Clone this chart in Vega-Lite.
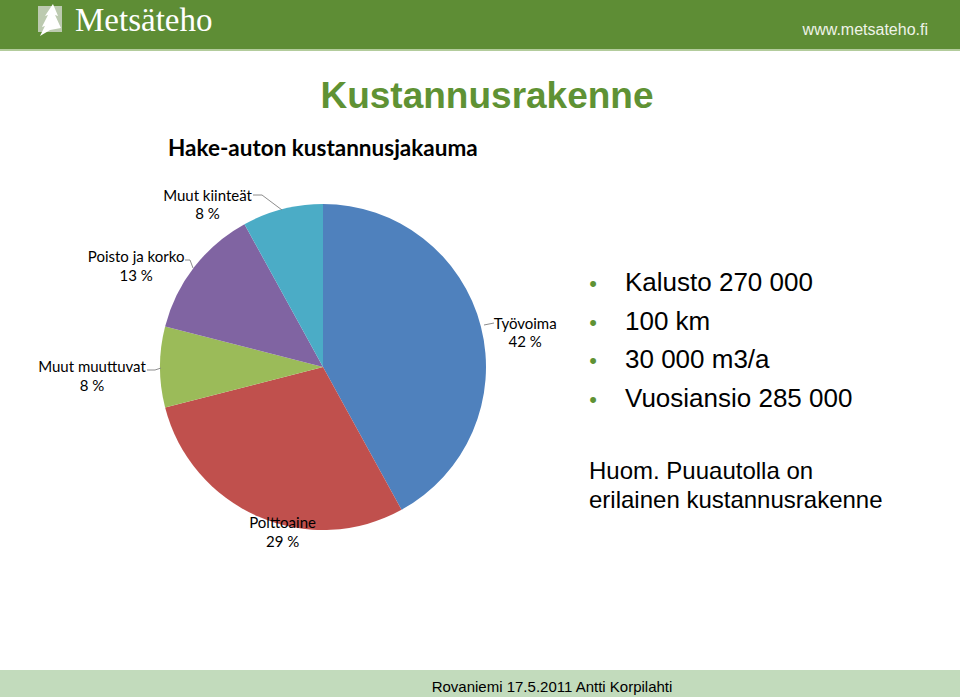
{
  "$schema": "https://vega.github.io/schema/vega-lite/v6.json",
  "width": 960,
  "height": 697,
  "autosize": "none",
  "padding": 0,
  "background": "white",
  "view": {"stroke": null},
  "datasets": {
    "pie": [
      {"kohde": "Työvoima", "osuus": 42, "nro": 1},
      {"kohde": "Polttoaine", "osuus": 29, "nro": 2},
      {"kohde": "Muut muuttuvat", "osuus": 8, "nro": 3},
      {"kohde": "Poisto ja korko", "osuus": 13, "nro": 4},
      {"kohde": "Muut kiinteät", "osuus": 8, "nro": 5}
    ],
    "one": [{}]
  },
  "layer": [
    {"data": {"name": "one"}, "mark": {"type": "rect", "x": 0, "x2": 960, "y": 0, "y2": 49, "fill": "#5E8D35"}, "encoding": {}},
    {"data": {"name": "one"}, "mark": {"type": "rect", "x": 0, "x2": 960, "y": 49, "y2": 51, "fill": "#B3CC9C"}, "encoding": {}},
    {"data": {"name": "one"}, "mark": {"type": "rect", "x": 0, "x2": 960, "y": 670, "y2": 697, "fill": "#C2DBBC"}, "encoding": {}},
    {"data": {"name": "one"}, "mark": {"type": "rect", "x": 38, "x2": 62, "y": 6, "y2": 32, "fill": "#BCCAB0"}, "encoding": {}},
    {"data": {"name": "one"}, "mark": {"type": "point", "x": 48, "y": 20, "size": 1024, "filled": true, "fill": "white", "opacity": 1, "shape": "M0.31,-1L0.63,-0.25L0.44,-0.31L0.81,0.5L0.13,0.63L-0.5,1L-0.19,0.38L-0.38,0.44L0,-0.31L-0.19,-0.25Z"}, "encoding": {}},
    {"data": {"name": "one"}, "mark": {"type": "text", "x": 75, "y": 31, "text": "Metsäteho", "font": "Liberation Serif", "fontSize": 33, "color": "white", "align": "left", "baseline": "alphabetic"}, "encoding": {}},
    {"data": {"name": "one"}, "mark": {"type": "text", "x": 928, "y": 35, "text": "www.metsateho.fi", "font": "Liberation Sans", "fontSize": 16, "color": "#EEF3E8", "align": "right", "baseline": "alphabetic"}, "encoding": {}},
    {"data": {"name": "one"}, "mark": {"type": "text", "x": 487, "y": 108, "text": "Kustannusrakenne", "font": "Liberation Sans", "fontSize": 37, "fontWeight": "bold", "color": "#5F9234", "align": "center", "baseline": "alphabetic"}, "encoding": {}},
    {"data": {"name": "one"}, "mark": {"type": "text", "x": 168, "y": 156, "text": "Hake-auton kustannusjakauma", "font": "Lato", "fontSize": 22.5, "fontWeight": "bold", "color": "black", "align": "left", "baseline": "alphabetic"}, "encoding": {}},
    {"data": {"name": "one"}, "mark": {"type": "text", "x": 593, "y": 291, "text": ["•", "•", "•", "•"], "lineHeight": 38.5, "font": "Liberation Sans", "fontSize": 22, "color": "#5F9234", "align": "center", "baseline": "alphabetic"}, "encoding": {}},
    {"data": {"name": "one"}, "mark": {"type": "text", "x": 625, "y": 291, "text": ["Kalusto 270 000", "100 km", "30 000 m3/a", "Vuosiansio 285 000"], "lineHeight": 38.5, "font": "Liberation Sans", "fontSize": 26, "color": "black", "align": "left", "baseline": "alphabetic"}, "encoding": {}},
    {"data": {"name": "one"}, "mark": {"type": "text", "x": 589, "y": 479, "text": ["Huom. Puuautolla on", "erilainen kustannusrakenne"], "lineHeight": 29, "font": "Liberation Sans", "fontSize": 24, "color": "black", "align": "left", "baseline": "alphabetic"}, "encoding": {}},
    {"data": {"name": "one"}, "mark": {"type": "text", "x": 552, "y": 692, "text": "Rovaniemi 17.5.2011 Antti Korpilahti", "font": "Liberation Sans", "fontSize": 15, "color": "black", "align": "center", "baseline": "alphabetic"}, "encoding": {}},
    {
      "data": {"name": "pie"},
      "mark": {"type": "arc", "x": 323, "y": 367, "outerRadius": 163},
      "encoding": {
        "theta": {"field": "osuus", "type": "quantitative", "stack": true},
        "order": {"field": "nro", "type": "quantitative"},
        "color": {"field": "kohde", "type": "nominal", "legend": null,
          "scale": {"domain": ["Työvoima", "Polttoaine", "Muut muuttuvat", "Poisto ja korko", "Muut kiinteät"],
                    "range": ["#4F81BD", "#C0504D", "#9BBB59", "#8064A2", "#4BACC6"]}}
      }
    },
    {"data": {"name": "one"}, "mark": {"type": "rule", "color": "#808080", "strokeWidth": 0.9}, "encoding": {"x": {"value": 253}, "y": {"value": 195}, "x2": {"value": 262}, "y2": {"value": 195}}},
    {"data": {"name": "one"}, "mark": {"type": "rule", "color": "#808080", "strokeWidth": 0.9}, "encoding": {"x": {"value": 262}, "y": {"value": 195}, "x2": {"value": 282}, "y2": {"value": 210}}},
    {"data": {"name": "one"}, "mark": {"type": "rule", "color": "#808080", "strokeWidth": 0.9}, "encoding": {"x": {"value": 185}, "y": {"value": 260}, "x2": {"value": 190}, "y2": {"value": 260}}},
    {"data": {"name": "one"}, "mark": {"type": "rule", "color": "#808080", "strokeWidth": 0.9}, "encoding": {"x": {"value": 190}, "y": {"value": 260}, "x2": {"value": 193}, "y2": {"value": 268}}},
    {"data": {"name": "one"}, "mark": {"type": "rule", "color": "#808080", "strokeWidth": 0.9}, "encoding": {"x": {"value": 147}, "y": {"value": 370}, "x2": {"value": 155}, "y2": {"value": 370}}},
    {"data": {"name": "one"}, "mark": {"type": "rule", "color": "#808080", "strokeWidth": 0.9}, "encoding": {"x": {"value": 155}, "y": {"value": 370}, "x2": {"value": 161}, "y2": {"value": 368}}},
    {"data": {"name": "one"}, "mark": {"type": "rule", "color": "#808080", "strokeWidth": 0.9}, "encoding": {"x": {"value": 484}, "y": {"value": 325}, "x2": {"value": 494}, "y2": {"value": 323}}},
    {
      "data": {"name": "pie"},
      "transform": [{"calculate": "[datum.kohde, datum.osuus + ' %']", "as": "lab"}],
      "mark": {"type": "text", "x": 323, "y": 367, "radius": 215, "dx": -6, "dy": 10, "font": "Lato", "fontSize": 15, "lineHeight": 18.5, "color": "black", "align": "center", "baseline": "middle"},
      "encoding": {
        "theta": {"field": "osuus", "type": "quantitative", "stack": true},
        "order": {"field": "nro", "type": "quantitative"},
        "detail": {"field": "kohde", "type": "nominal"},
        "text": {"field": "lab"},
        "opacity": {"condition": {"test": "datum.kohde === 'Työvoima'", "value": 1}, "value": 0}
      }
    },
    {
      "data": {"name": "pie"},
      "transform": [{"calculate": "[datum.kohde, datum.osuus + ' %']", "as": "lab"}],
      "mark": {"type": "text", "x": 323, "y": 367, "radius": 215, "dx": 45, "dy": -41, "font": "Lato", "fontSize": 15, "lineHeight": 18.5, "color": "black", "align": "center", "baseline": "middle"},
      "encoding": {
        "theta": {"field": "osuus", "type": "quantitative", "stack": true},
        "order": {"field": "nro", "type": "quantitative"},
        "detail": {"field": "kohde", "type": "nominal"},
        "text": {"field": "lab"},
        "opacity": {"condition": {"test": "datum.kohde === 'Polttoaine'", "value": 1}, "value": 0}
      }
    },
    {
      "data": {"name": "pie"},
      "transform": [{"calculate": "[datum.kohde, datum.osuus + ' %']", "as": "lab"}],
      "mark": {"type": "text", "x": 323, "y": 367, "radius": 215, "dx": -16, "dy": 0, "font": "Lato", "fontSize": 15, "lineHeight": 18.5, "color": "black", "align": "center", "baseline": "middle"},
      "encoding": {
        "theta": {"field": "osuus", "type": "quantitative", "stack": true},
        "order": {"field": "nro", "type": "quantitative"},
        "detail": {"field": "kohde", "type": "nominal"},
        "text": {"field": "lab"},
        "opacity": {"condition": {"test": "datum.kohde === 'Muut muuttuvat'", "value": 1}, "value": 0}
      }
    },
    {
      "data": {"name": "pie"},
      "transform": [{"calculate": "[datum.kohde, datum.osuus + ' %']", "as": "lab"}],
      "mark": {"type": "text", "x": 323, "y": 367, "radius": 215, "dx": -17, "dy": 22, "font": "Lato", "fontSize": 15, "lineHeight": 18.5, "color": "black", "align": "center", "baseline": "middle"},
      "encoding": {
        "theta": {"field": "osuus", "type": "quantitative", "stack": true},
        "order": {"field": "nro", "type": "quantitative"},
        "detail": {"field": "kohde", "type": "nominal"},
        "text": {"field": "lab"},
        "opacity": {"condition": {"test": "datum.kohde === 'Poisto ja korko'", "value": 1}, "value": 0}
      }
    },
    {
      "data": {"name": "pie"},
      "transform": [{"calculate": "[datum.kohde, datum.osuus + ' %']", "as": "lab"}],
      "mark": {"type": "text", "x": 323, "y": 367, "radius": 215, "dx": -62, "dy": 37, "font": "Lato", "fontSize": 15, "lineHeight": 18.5, "color": "black", "align": "center", "baseline": "middle"},
      "encoding": {
        "theta": {"field": "osuus", "type": "quantitative", "stack": true},
        "order": {"field": "nro", "type": "quantitative"},
        "detail": {"field": "kohde", "type": "nominal"},
        "text": {"field": "lab"},
        "opacity": {"condition": {"test": "datum.kohde === 'Muut kiinteät'", "value": 1}, "value": 0}
      }
    }
  ]
}
